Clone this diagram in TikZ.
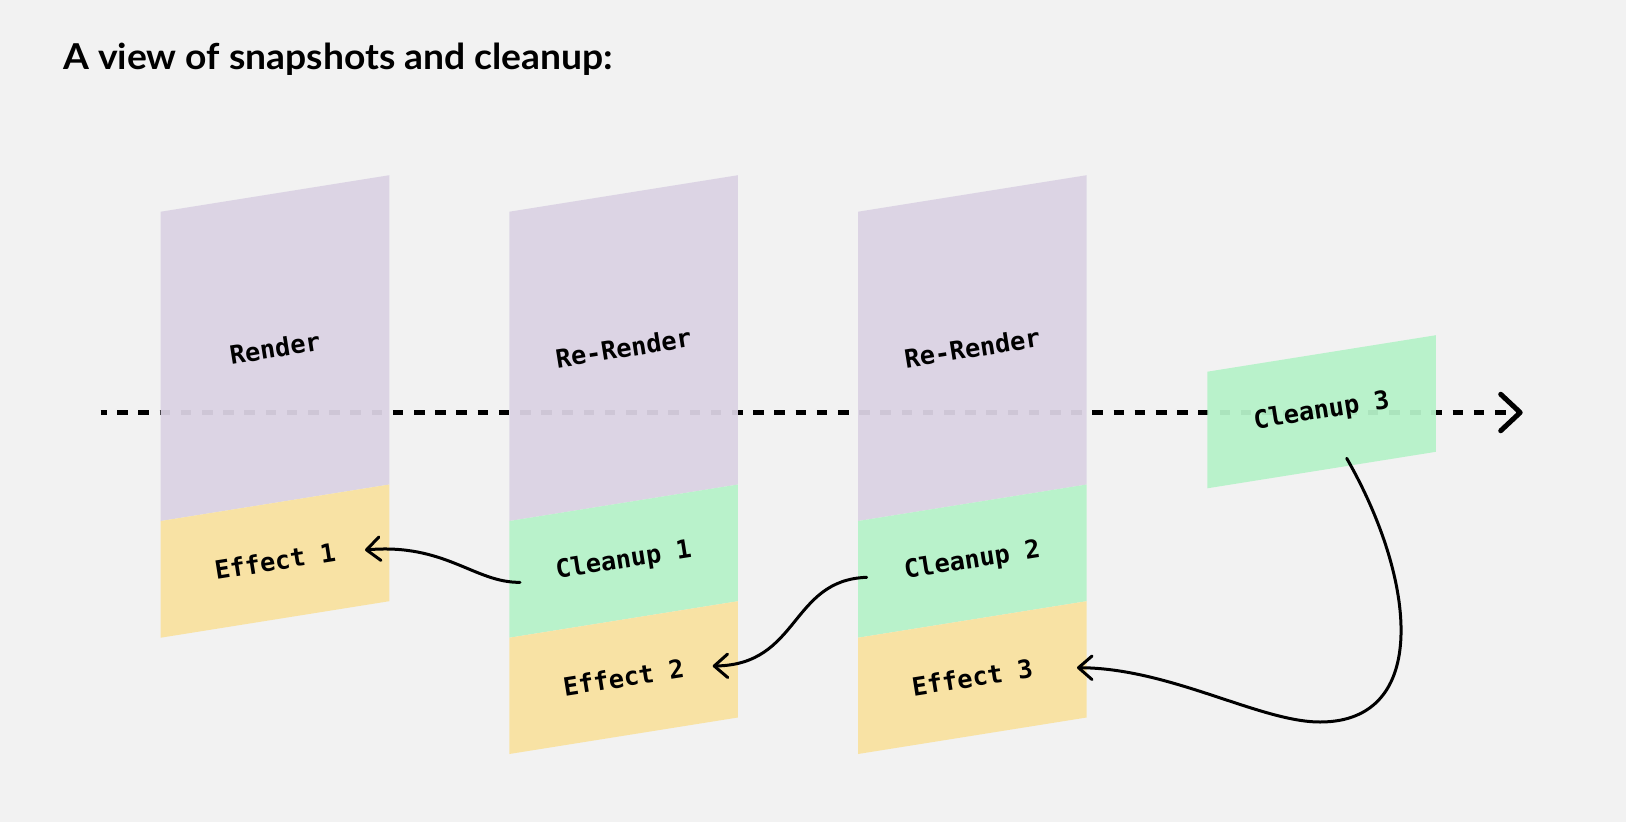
\documentclass[tikz,border=0pt]{standalone}
\usepackage{fontspec}
\setmainfont{Lato}
\newfontfamily\monofont{DejaVu Sans Mono}
\newfontfamily\titlefont{Lato}[FakeStretch=1.045]
\usetikzlibrary{arrows.meta}
\definecolor{bgcol}{HTML}{F2F2F2}
\definecolor{rendercol}{HTML}{DBD3E4}
\definecolor{cleanupcol}{HTML}{B6F3C9}
\definecolor{effectcol}{HTML}{F9E2A0}
\begin{document}
\begin{tikzpicture}[x=0.02cm,y=-0.02cm,
    render/.style={fill=rendercol,fill opacity=0.94},
    cleanup/.style={fill=cleanupcol,fill opacity=0.94},
    effect/.style={fill=effectcol,fill opacity=0.94},
    lbl/.style={font={\monofont\bfseries\fontsize{14.4}{17}\selectfont},rotate=9,inner sep=0pt},
    flow/.style={line width=0.06cm,line cap=round,-{Straight Barb[length=0.27cm,width=0.47cm,round]}}]
        %Nền
            \fill[bgcol] (0,0) rectangle (1626,822);
            \useasboundingbox (0,0) rectangle (1626,822);
        %Tiêu đề
            \node[anchor=base west,inner sep=0pt,font={\titlefont\bfseries\fontsize{20.3}{24}\selectfont}] (title) at (62.7,69) {A view of snapshots and cleanup:};
        %Trục thời gian
            \coordinate (tstart) at (100.7,412.5);
            \coordinate (tend) at (1522.7,412.5);
            \draw[line width=0.09cm,dash pattern=on 0.212cm off 0.212cm,dash phase=0.092cm,
                -{Straight Barb[length=0.39cm,width=0.73cm,round,line width=0.1cm]}] (tstart)--(tend);
        %Các khối
        \foreach \x/\y/\h/\s in{
        160.7/211.7/309.3/render, 160.7/521/116.7/effect,
        509.3/211.7/309.3/render, 509.3/521/116.7/cleanup, 509.3/637.7/116.3/effect,
        858/211.7/309.3/render, 858/521/116.7/cleanup, 858/637.7/116.3/effect,
        1207.3/371.7/116.6/cleanup}{\fill[\s] (\x,\y) -- ++(228.6,-36.5) -- ++(0,\h) -- ++(-228.6,36.5) -- cycle;}
        %Nhãn
            \node[lbl] (render1) at (275,348) {Render};
            \node[lbl] (effect1) at (275,561) {Effect 1};
            \node[lbl] (render2) at (623.6,348) {Re-Render};
            \node[lbl] (cleanup1) at (623.6,561) {Cleanup 1};
            \node[lbl] (effect2) at (623.6,677.5) {Effect 2};
            \node[lbl] (render3) at (972.3,348) {Re-Render};
            \node[lbl] (cleanup2) at (972.3,561) {Cleanup 2};
            \node[lbl] (effect3) at (972.3,677.5) {Effect 3};
            \node[lbl] (cleanup3) at (1321.6,411.5) {Cleanup 3};
        %Mũi tên
            \coordinate (cl1out) at (520,582.3);
            \coordinate (ef1in) at (365,550);
            \coordinate (cl2out) at (866.7,577.3);
            \coordinate (ef2in) at (712.7,666);
            \coordinate (cl3out) at (1346.7,458.3);
            \coordinate (ef3in) at (1077,667.7);
            \draw[flow] (cl1out) .. controls (475,583) and (445,543) .. (ef1in);
            \draw[flow] (cl2out) .. controls (790,580) and (800,665) .. (ef2in);
            \draw[flow] (cl3out) .. controls (1417,581) and (1430,722) .. (1320,722)
                .. controls (1260,722) and (1170,668) .. (ef3in);
        \end{tikzpicture}
\end{document}
